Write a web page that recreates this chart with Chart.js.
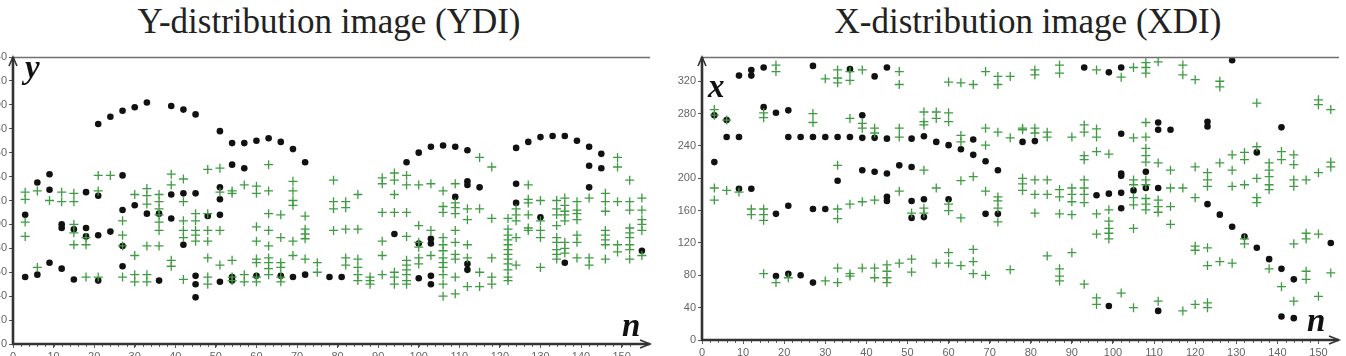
<!DOCTYPE html>
<html>
<head>
<meta charset="utf-8">
<script src="https://cdn.jsdelivr.net/npm/chart.js@4/dist/chart.umd.min.js"></script>
<style>
    html, body { margin: 0; padding: 0; background: #fff; width: 1346px; height: 356px; overflow: hidden; position: relative; }
    .title { position: absolute; top: 4px; line-height: 35px; font-family: "Liberation Serif", serif; font-size: 35px; color: #222; white-space: nowrap; transform: translateX(-50%); }
    .box { position: absolute; top: 0; }
</style>
</head>
<body>
<div class="title" style="left:329px">Y-distribution image (YDI)</div>
<div class="title" style="left:1028px">X-distribution image (XDI)</div>
<div class="box" style="left:-17px;width:680px;height:364px"><canvas id="ydiChart"></canvas></div>
<div class="box" style="left:666px;width:680px;height:360px"><canvas id="xdiChart"></canvas></div>

<script>
/* ================= DATA ================= */

// YDI: black dots [n, y]
const ydiDots = [
    [21,184],[24,190],[27,195],[30,198],[33,202],[39,199],[42,196],[45,192],
    [51,178],[54,168],[57,168],[60,170],[63,172],[66,169],[69,163],[72,152],
    [97,152],[100,160],[103,165],[106,166],[109,165],[112,162],
    [124,164],[127,169],[130,173],[133,174],[136,174],[139,170],[142,165],[145,159],
    [142,149],[145,147],[142,131],
    [112,133],[112,136],[115,131],[109,123],[124,134],[124,118],[130,106],[94,92],[100,84],[103,88],[103,84],
    [112,67],[112,62],[100,55],[103,57],[103,50],[78,56],[81,56],[136,68],[155,78],
    [6,135],[3,108],[9,129],[9,142],[12,100],[12,97],[15,96],[18,97],[18,90],[21,91],[24,94],
    [18,127],[21,124],[27,112],[30,116],[27,82],[27,65],[27,141],[36,109],[39,125],[39,105],
    [42,126],[42,83],[45,126],[48,107],[51,131],[51,121],[51,108],[33,109],[54,150],[57,147],
    [3,56],[6,58],[9,68],[12,63],[15,54],[21,53],[36,53],[45,57],[45,50],[45,39],
    [51,52],[54,53],[54,56],[60,57],[66,57],[69,56],[72,58]
];

// YDI: green crosses, by column [n, [y...]]
const ydiCrosses = [
    [3, [127,121,102,90]], [6, [128,64]], [9, [120]], [12, [127,119]],
    [15, [126,119,100,93,83]], [18, [89,83,56]], [21, [141,128,56]], [24, [141]],
    [27, [103,91,82,56]], [30, [125,74,58,52]], [33, [130,124,117,82,58,52]],
    [36, [125,119,113,108,102,95,82]], [39, [142,133,70,65]], [42, [138,119,103,95,89,54]],
    [45, [109,103,95,91,86]], [48, [146,109,95,86,72,56,50]], [51, [147,127,95,66]],
    [54, [128,126,70,56,53]], [57, [133,58,52]], [60, [132,126,98,86,71,68,56,52]],
    [63, [150,128,109,95,82,72,68,63,58]], [66, [108,89,68,64,56,52]],
    [69, [136,128,120,116,86,74]], [72, [107,96,92,88,71]], [75, [68,60]],
    [79, [137,119,113,95]], [82, [119,114,96,72,66]], [85, [125,96,71,64,58,53]],
    [88, [56,53,50]], [91, [139,134,110,86,74,58]], [94, [143,137,125,110,60,56,50]],
    [97, [141,133,110,90,70,66,62,58,53,50]], [100, [133,99,85,81,72,67]], [103, [134,95,74]],
    [106, [128,115,110,89,83,78,72,68,64,58,50,40]], [109, [134,118,114,109,95,85,75,71,56,42]],
    [112, [113,104,83,72,48]], [115, [156,113,60,48]], [118, [148,105,72,56,50]],
    [122, [105,96,91,87,83,79,75,71,67,62,56,53]], [124, [113,108,103,89,66]],
    [127, [133,121,118,108,97,95]], [130, [120,103,95,89,64]],
    [134, [120,113,108,99,89,85,79,75,71]], [136, [122,116,111,108,103,85,80,76]],
    [139, [119,112,109,104,91,85,72]], [142, [122,72,66]],
    [146, [126,119,111,95,91,87,83,71]], [149, [156,148,119,83,77]],
    [152, [137,119,112,97,93,89,83,79,71]], [155, [122,112,104,100,95,74]]
];

// XDI: black dots [n, x]
const xdiDots = [
    [3,278],[6,272],[6,251],[9,251],[3,220],[9,327],[12,327],[12,334],[15,337],[15,288],[18,281],[21,284],
    [21,251],[24,251],[27,251],[30,251],[33,251],[27,339],[36,335],[42,326],[45,337],[39,278],
    [36,251],[39,250],[42,250],[45,249],[51,249],[54,252],[57,245],[60,241],[63,236],[66,248],[66,229],[69,221],[72,210],
    [33,197],[39,210],[42,208],[45,206],[48,216],[51,214],
    [9,187],[12,187],[18,156],[21,166],[27,162],[30,162],[45,177],[45,172],[51,172],[54,174],[51,151],[54,152],
    [60,174],[69,156],[72,156],
    [18,79],[21,82],[24,80],[27,71],
    [96,179],[99,181],[102,182],[105,185],[108,188],[111,188],[102,203],[102,163],
    [123,168],[126,155],[129,140],[132,128],[135,114],[138,100],[141,88],[144,75],[141,29],[144,27],
    [99,42],[111,36],[153,120],
    [78,245],[81,246],[102,255],[111,269],[111,260],[114,260],[123,270],[123,264],[141,263],[135,232],
    [102,206],[108,208],
    [93,337],[99,331],[102,337],[129,346]
];

// XDI: green crosses, by column [n, [x...]]
const xdiCrosses = [
    [3, [285,278,188,173]], [6, [272,185]], [9, [183]], [12, [162,155]],
    [15, [281,275,162,155,148,82]], [18, [340,332,71]], [21, [77]], [27, [280,269]],
    [30, [323,73]], [33, [334,324,318,216,162,150,89,71]], [36, [332,321,274,168,82,79]],
    [39, [334,268,262,171,89]], [42, [262,256,173,89,77]], [45, [93,85,77,71]],
    [48, [332,316,262,251,184,95]], [51, [157,100,84]], [54, [282,270,266,210,163,157]],
    [57, [282,274,188,95]], [60, [319,281,270,168,160,108,95]], [63, [318,253,245,197,151,92]],
    [66, [316,202,112,97,82]], [69, [332,262,241,184,80]], [72, [326,316,257,177,172,163,146]],
    [75, [326,250,87]], [78, [262,260,200,193,185]], [81, [334,328,262,256,198,180,157]],
    [84, [257,251,198,180,104]], [87, [340,330,186,177,156,88,79,73]],
    [90, [251,188,180,171,155,108]], [93, [266,257,228,223,198,188,180,170,69]],
    [96, [334,261,251,233,156,131,52,44]], [99, [230,161,147,138,132,125]], [102, [325,58]],
    [105, [337,250,198,192,176,167,138,40]],
    [108, [343,337,330,269,251,237,228,220,198,192,175,168,161]],
    [111, [344,219,173,165,158,48]], [114, [210,188,165,143]], [117, [340,328,188,36]],
    [120, [322,214,176,116,111,44]], [123, [207,198,190,114,92,46,40]], [126, [320,313,219,97]],
    [129, [229,210,190,95]], [132, [232,223,192,125,119]], [135, [293,239,200,176,170]],
    [138, [219,210,202,192,186,88]], [141, [233,223,66]], [144, [229,217,198,190,119,48]],
    [147, [198,132,125,85,75]], [150, [297,291,207,131,54]], [153, [285,220,214,83]]
];

const xTicksStep = 10;

/* ================= AXIS DECORATION ================= */

const axisDecor = {
    id: "axisDecor",
    afterDraw(chart, args, o) {
        const { ctx, chartArea: a } = chart;
        const xs = chart.scales.x;
        ctx.save();

        // top rule
        ctx.strokeStyle = "#707070";
        ctx.lineWidth = 1.6;
        ctx.beginPath();
        ctx.moveTo(a.left, a.top + 0.5);
        ctx.lineTo(a.right, a.top + 0.5);
        ctx.stroke();

        // minor ticks along n axis
        ctx.strokeStyle = "#666";
        ctx.lineWidth = 1;
        ctx.beginPath();
        for (let v = 0; v <= xs.max - 4; v += 2) {
            const px = Math.round(xs.getPixelForValue(v)) + 0.5;
            ctx.moveTo(px, a.bottom);
            ctx.lineTo(px, a.bottom + 3);
        }
        ctx.stroke();

        // axes
        ctx.strokeStyle = "#333";
        ctx.lineWidth = 2.6;
        ctx.beginPath();
        ctx.moveTo(a.left, a.bottom);
        ctx.lineTo(a.left, a.top);
        ctx.moveTo(a.left - 1, a.bottom);
        ctx.lineTo(a.right, a.bottom);
        ctx.stroke();

        // arrow heads
        ctx.lineWidth = 1.6;
        ctx.beginPath();
        ctx.moveTo(a.left - 4, a.top + 9);
        ctx.lineTo(a.left, a.top);
        ctx.lineTo(a.left + 4, a.top + 9);
        ctx.moveTo(a.right - 10, a.bottom - 4);
        ctx.lineTo(a.right, a.bottom);
        ctx.lineTo(a.right - 10, a.bottom + 4);
        ctx.stroke();

        // axis names
        ctx.fillStyle = "#111";
        ctx.font = 'italic bold 33px "Liberation Serif", serif';
        ctx.textBaseline = "alphabetic";
        ctx.fillText(o.vName, a.left + o.vx, a.top + o.vy);
        ctx.fillText("n", a.right + o.nx, a.bottom + o.ny);
        ctx.restore();
    }
};

/* ================= CHART FACTORY ================= */

function makeChart(id, dots, crosses, xMax, yMax, yStep, yWidth, decor) {
    const crossPoints = crosses.flatMap(([n, vs]) => vs.map(v => ({ x: n, y: v })));
    const dotPoints = dots.map(([n, v]) => ({ x: n, y: v }));

    return new Chart(document.getElementById(id), {
        type: "scatter",
        data: {
            datasets: [{
                    data: crossPoints,
                    pointStyle: "cross",
                    pointRadius: 4.5,
                    borderColor: "#3f9c43",
                    borderWidth: 1.3,
                    order: 1
                }, {
                    data: dotPoints,
                    pointStyle: "circle",
                    pointRadius: 3.3,
                    backgroundColor: "#111",
                    borderWidth: 0,
                    order: 2
                }]
        },
        plugins: [axisDecor],
        options: {
            responsive: true,
            maintainAspectRatio: false,
            animation: false,
            events: [],
            layout: {
                padding: { top: 57, right: decor.padRight, left: 0, bottom: 0 }
            },
            plugins: {
                legend: { display: false },
                tooltip: { enabled: false },
                axisDecor: decor
            },
            scales: {
                x: {
                    type: "linear",
                    min: 0,
                    max: xMax,
                    afterFit: (s) => { s.height = 20; },
                    afterBuildTicks: (s) => { s.ticks = s.ticks.filter(t => t.value % xTicksStep === 0); },
                    ticks: {
                        stepSize: xTicksStep,
                        includeBounds: false,
                        autoSkip: false,
                        maxRotation: 0,
                        padding: 2,
                        color: "#666",
                        font: { family: "Liberation Sans", size: 11 }
                    },
                    grid: { drawOnChartArea: false, tickLength: 4, color: "#555" },
                    border: { display: false }
                },
                y: {
                    type: "linear",
                    min: 0,
                    max: yMax,
                    afterFit: (s) => { s.width = yWidth; },
                    afterBuildTicks: (s) => { s.ticks = s.ticks.filter(t => t.value % yStep === 0); },
                    ticks: {
                        stepSize: yStep,
                        includeBounds: false,
                        autoSkip: false,
                        padding: 2,
                        color: "#666",
                        font: { family: "Liberation Sans", size: 11 }
                    },
                    grid: { drawOnChartArea: false, tickLength: 4, color: "#555" },
                    border: { display: false }
                }
            }
        }
    });
}

/* ================= YDI ================= */

makeChart("ydiChart", ydiDots, ydiCrosses, 157, 240, 20, 30,
    { vName: "y", vx: 12, vy: 21, nx: -28, ny: -8, padRight: 13 });

/* ================= XDI ================= */

makeChart("xdiChart", xdiDots, xdiCrosses, 155, 350, 40, 36,
    { vName: "x", vx: 6, vy: 40, nx: -32, ny: -9, padRight: 7 });
</script>
</body>
</html>
